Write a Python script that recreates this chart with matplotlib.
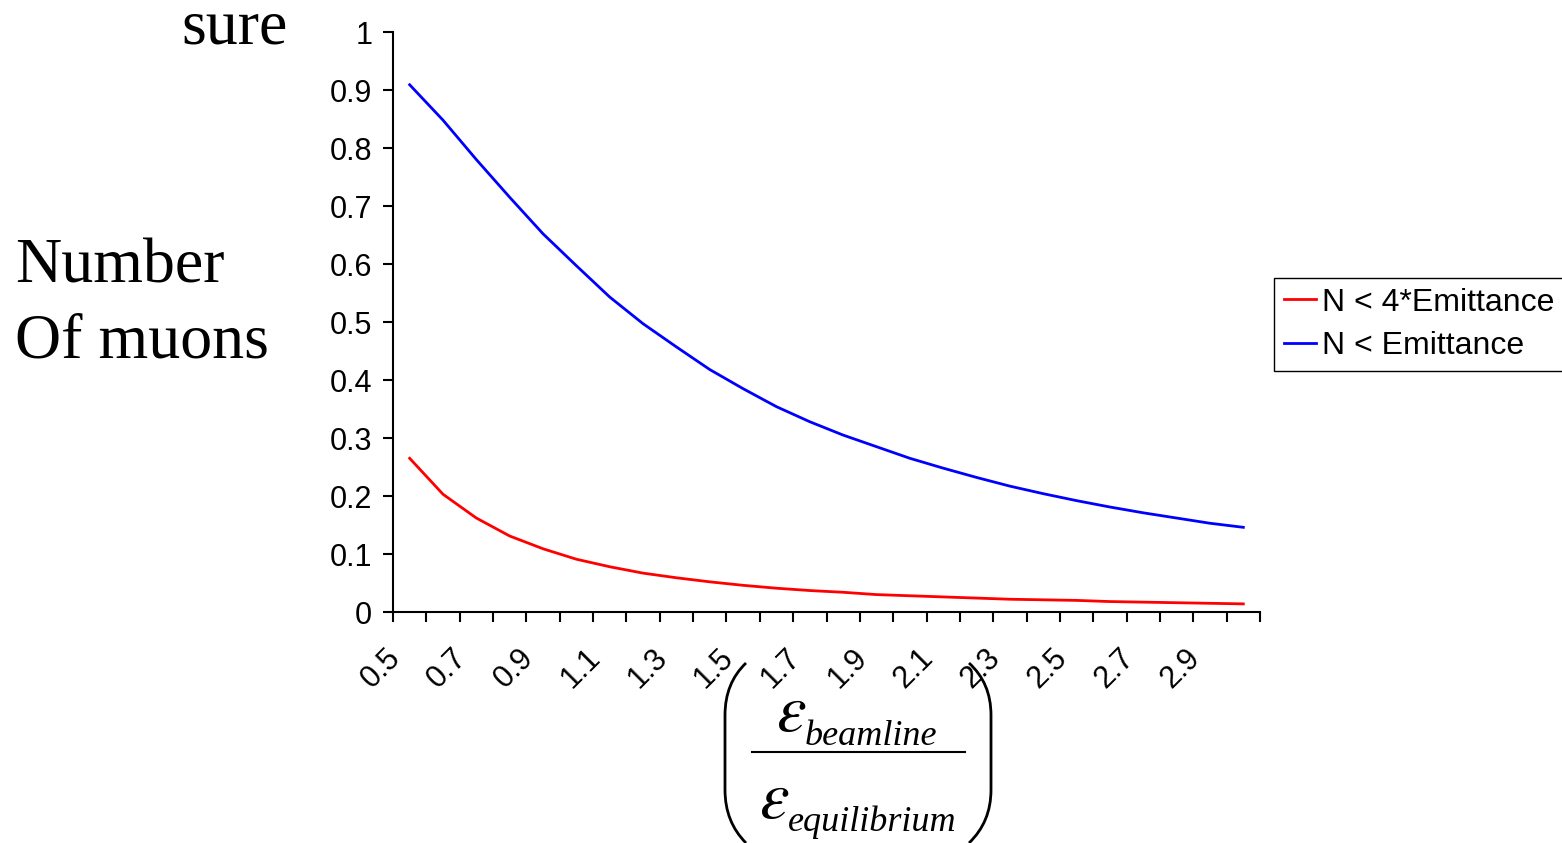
import numpy as np
import matplotlib.pyplot as plt
import matplotlib.transforms as mtransforms
from matplotlib.patches import PathPatch
from matplotlib.path import Path
from matplotlib.lines import Line2D

plt.rcParams['font.family'] = ['Liberation Sans', 'DejaVu Sans']
plt.rcParams['mathtext.fontset'] = 'stix'

# categories on the x axis (ratio of emittances)
cats = ['0.5', '0.6', '0.7', '0.8', '0.9', '1', '1.1', '1.2', '1.3', '1.4', '1.5', '1.6', '1.7',
        '1.8', '1.9', '2', '2.1', '2.2', '2.3', '2.4', '2.5', '2.6', '2.7', '2.8', '2.9', '3']

# fraction of muons
n_4emit = [0.265, 0.203, 0.162, 0.131, 0.109, 0.091, 0.078, 0.067, 0.059, 0.052, 0.046, 0.041, 0.037,
           0.034, 0.030, 0.028, 0.026, 0.024, 0.022, 0.021, 0.020, 0.018, 0.017, 0.016, 0.015, 0.014]
n_emit = [0.909, 0.848, 0.780, 0.715, 0.652, 0.597, 0.543, 0.497, 0.457, 0.418, 0.385, 0.354, 0.328,
          0.305, 0.285, 0.265, 0.248, 0.232, 0.217, 0.204, 0.192, 0.181, 0.171, 0.162, 0.153, 0.146]

yticks = [0, 0.1, 0.2, 0.3, 0.4, 0.5, 0.6, 0.7, 0.8, 0.9, 1]
ylabels = ['0', '0.1', '0.2', '0.3', '0.4', '0.5', '0.6', '0.7', '0.8', '0.9', '1']

W, H = 1562, 843
fig = plt.figure(figsize=(W / 100, H / 100), dpi=100)
ax = fig.add_axes([393 / W, 1 - 612 / H, (1260 - 393) / W, (612 - 32) / H])

x = np.arange(len(cats))
l1, = ax.plot(x, n_4emit, color='#ff0000', lw=2)
l2, = ax.plot(x, n_emit, color='#0000ff', lw=2)

ax.set_xlim(-0.5, len(cats) - 0.5)
ax.set_ylim(0, 1)
ax.spines['top'].set_visible(False)
ax.spines['right'].set_visible(False)
for s in ['left', 'bottom']:
    ax.spines[s].set_linewidth(1.5)

ax.set_yticks(yticks)
ax.set_yticklabels(ylabels)
ax.tick_params(axis='y', length=7, width=1.5, labelsize=22, pad=8)

# category boundaries as ticks, labels at category centres
ax.set_xticks(np.arange(-0.5, len(cats), 1))
ax.set_xticklabels([])
ax.set_xticks(x[::2], minor=True)
ax.set_xticklabels(cats[::2], minor=True, rotation=45, ha='right', va='center',
                   rotation_mode='anchor')
ax.tick_params(axis='x', which='major', length=7, width=1.5)
ax.tick_params(axis='x', which='minor', length=0, labelsize=22, pad=30)
off = mtransforms.ScaledTranslation(-14 / 100, 0, fig.dpi_scale_trans)
for lab in ax.get_xticklabels(minor=True):
    lab.set_transform(lab.get_transform() + off)

fig.legend([l1, l2], ['N < 4*Emittance', 'N < Emittance'], loc='upper left',
           bbox_to_anchor=(1274 / W, 1 - 278 / H), borderaxespad=0, fontsize=23,
           frameon=True, fancybox=False, edgecolor='black', framealpha=1,
           handlelength=1.0, handletextpad=0.2, borderpad=0.3, labelspacing=0.42)
fig.legends[0].get_frame().set_linewidth(1.0)

serif = ['Liberation Serif', 'DejaVu Serif']
fig.text(15 / W, 1 - 283 / H, 'Number', family=serif, fontsize=46, ha='left', va='baseline')
fig.text(15 / W, 1 - 358 / H, 'Of muons', family=serif, fontsize=46, ha='left', va='baseline')
fig.text(288 / W, 1 - 43 / H, 'sure', family=serif, fontsize=46, ha='right', va='baseline')


# x axis title: (eps_beamline / eps_equilibrium)
def fx(px):
    return px / W


def fy(py):
    return 1 - py / H


fig.text(fx(776), fy(731), r'$\varepsilon$', fontsize=48, ha='left', va='baseline')
fig.text(fx(805), fy(745), 'beamline', family=serif, style='italic', fontsize=26,
         ha='left', va='baseline')
fig.text(fx(759), fy(818), r'$\varepsilon$', fontsize=48, ha='left', va='baseline')
fig.text(fx(788), fy(831), 'equilibrium', family=serif, style='italic', fontsize=26,
         ha='left', va='baseline')
fig.add_artist(Line2D([fx(752), fx(965)], [fy(752), fy(752)], color='black', lw=1.5,
                      transform=fig.transFigure))


def paren(xe, xm):
    # xe: x of the curled ends, xm: x of the straight middle (pixels)
    pts = [(xe, 663), (xm, 683), (xm, 715), (xm, 790), (xm, 822), (xe, 843)]
    codes = [Path.MOVETO, Path.CURVE3, Path.CURVE3, Path.LINETO, Path.CURVE3, Path.CURVE3]
    verts = [(px / 100, (H - py) / 100) for px, py in pts]
    return PathPatch(Path(verts, codes), fill=False, lw=2, edgecolor='black',
                     transform=fig.dpi_scale_trans)


fig.add_artist(paren(746, 725))
fig.add_artist(paren(969, 991))

fig.savefig('out.png', dpi=100)
